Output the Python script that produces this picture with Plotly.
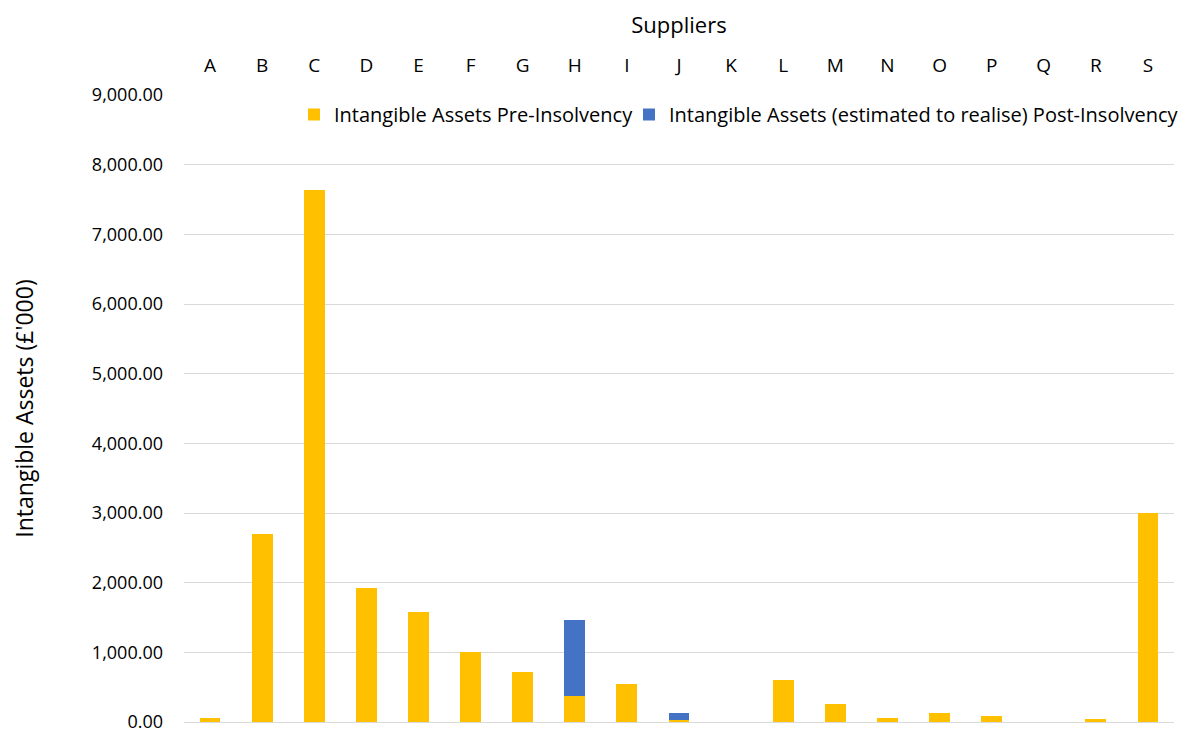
import plotly.graph_objects as go

suppliers = list("ABCDEFGHIJKLMNOPQRS")
pre_insolvency = [60, 2700, 7640, 1930, 1580, 1000, 720, 375, 540, 30, 0, 600, 255, 57, 130, 86, 0, 47, 3000]
post_insolvency = [0, 0, 0, 0, 0, 0, 0, 1085, 0, 100, 0, 0, 0, 0, 0, 0, 0, 0, 0]
y_ticks = [0, 1000, 2000, 3000, 4000, 5000, 6000, 7000, 8000, 9000]

FONT = "Open Sans"
# the page body adds an 8px offset; figure coordinates below are page - 8
OFF = 8
FIG_W, FIG_H = 1187 - OFF, 733 - OFF
PLOT_L, PLOT_R = 184 - OFF, 1174 - OFF
PLOT_T, PLOT_B = 95 - OFF, 722 - OFF
PLOT_W = PLOT_R - PLOT_L


def px_to_paper(px):
    return (px - OFF - PLOT_L) / PLOT_W


fig = go.Figure()
fig.add_trace(go.Bar(
    x=suppliers, y=pre_insolvency, name="Intangible Assets Pre-Insolvency",
    marker=dict(color="#FFC000", line=dict(width=0)), legend="legend",
))
fig.add_trace(go.Bar(
    x=suppliers, y=post_insolvency,
    name="Intangible Assets (estimated to realise) Post-Insolvency",
    marker=dict(color="#4472C4", line=dict(width=0)), legend="legend2",
))

leg_common = dict(orientation="h", y=1.0, yanchor="top", xanchor="left",
                  font=dict(family=FONT, size=20), bgcolor="rgba(0,0,0,0)",
                  itemwidth=30)

fig.update_layout(
    width=FIG_W, height=FIG_H,
    barmode="stack", bargap=0.6,
    plot_bgcolor="white", paper_bgcolor="white",
    margin=dict(l=PLOT_L, r=FIG_W - PLOT_R, t=PLOT_T, b=FIG_H - PLOT_B, autoexpand=False),
    font=dict(family=FONT, size=18, color="#000000"),
    showlegend=True,
    legend=dict(x=px_to_paper(294), **leg_common),
    legend2=dict(x=px_to_paper(629), **leg_common),
    xaxis=dict(side="top", automargin=False,
               title=dict(text="Suppliers", font=dict(size=22), standoff=12),
               showgrid=False, showline=False, ticks="", tickfont=dict(size=19),
               ticklabelstandoff=18),
    yaxis=dict(range=[0, 9000], tickvals=y_ticks, tickformat=",.2f", automargin=False,
               showgrid=True, gridcolor="#D9D9D9", gridwidth=1,
               zeroline=True, zerolinecolor="#D9D9D9", zerolinewidth=1,
               showline=False, ticks="", tickfont=dict(size=18),
               ticklabelstandoff=20, ticklabeloverflow="allow",
               title=dict(text="Intangible Assets (£'000)", font=dict(size=23), standoff=58)),
)

fig.write_html("out.html")
